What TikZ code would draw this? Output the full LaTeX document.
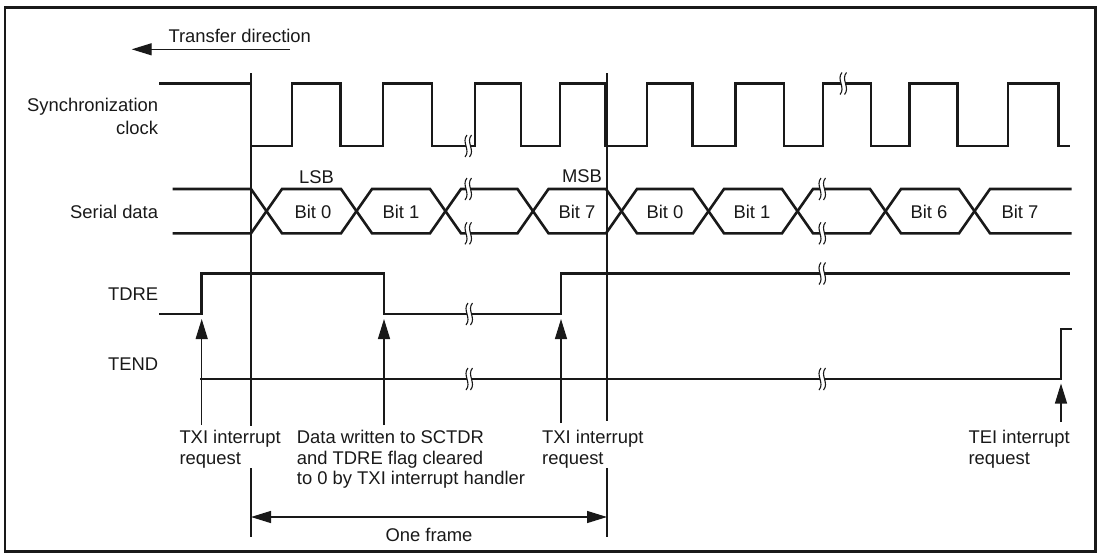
\documentclass[tikz,border=0pt]{standalone}
\usepackage{fontspec}
\setmainfont{Liberation Sans}
\usepackage{tikz}
\usetikzlibrary{arrows.meta, calc}
\definecolor{mydark}{RGB}{25,25,25}
\tikzset{
  sig/.style={line width=2.6pt, color=mydark},
  refline/.style={line width=1.3pt, color=mydark},
  arrow/.style={-{Triangle[length=20pt, width=12pt]}, line width=1.3pt, color=mydark},
  dblarrow/.style={{Triangle[length=20pt, width=12pt]}-{Triangle[length=20pt, width=12pt]},
    line width=1.3pt, color=mydark},
  lbl/.style={font=\fontsize{18.4}{20.5}\selectfont, inner sep=0pt, color=mydark},
  brk/.pic={
    \fill[white] (-1,-11) .. controls (-7,-4) and (3,4) .. (-3,11) -- (1.5,11)
      .. controls (7.5,4) and (-2.5,-4) .. (3.5,-11) -- cycle;
    \draw[line width=1.1pt, color=mydark] (-1,-11) .. controls (-7,-4) and (3,4) .. (-3,11);
    \draw[line width=1.1pt, color=mydark] (3.5,-11) .. controls (-2.5,-4) and (7.5,4) .. (1.5,11);
  }
}

\begin{document}
\begin{tikzpicture}[x=1pt, y=-1pt]
  \useasboundingbox (0,0) rectangle (1101,557);
  \draw[line width=2.2pt, color=mydark] (5,7.5) rectangle (1095.5,551.5);

  % --- Transfer direction ---
  \node[lbl, anchor=base west] (dirlbl) at (168.3,42.6) {Transfer direction};
  \coordinate (dirtail) at (290,49.3);
  \coordinate (dirtip) at (131.7,49.3);
  \draw[arrow] (dirtail) -- (dirtip);

  % --- Signal names ---
  \node[lbl, anchor=north east, align=right] (clklbl) at (158.3,98.4) {Synchronization\\[1.8pt]clock};
  \node[lbl, anchor=base east] (datalbl) at (158.3,218.3) {Serial data};
  \node[lbl, anchor=base east] (tdrelbl) at (158.3,300) {TDRE};
  \node[lbl, anchor=base east] (tendlbl) at (158.3,370) {TEND};

  % --- Synchronization clock ---
  \draw[sig] (159,83.5) -| (251,146) -| (292,83.5) -| (340.5,146) -| (383,83.5) -| (432,146)
    -| (475,83.5) -| (521,146) -| (560,83.5) -| (605,146) -| (647,83.5) -| (692.5,146)
    -| (735.5,83.5) -| (784,146) -| (823,83.5) -| (871,146) -| (909.5,83.5) -| (957.5,146)
    -| (1008,83.5) -| (1058.5,146) -- (1070,146);
  \pic at (468,146) {brk};
  \pic at (843,83.5) {brk};

  % --- Serial data ---
  \draw[sig] (172.7,189) -- (251,189) -- (282,233.3) -- (341,233.3) -- (372,189) -- (430,189)
    -- (461,233.3) -- (517.5,233.3) -- (548.5,189) -- (606,189) -- (637,233.3) -- (693,233.3)
    -- (724,189) -- (782,189) -- (813,233.3) -- (870,233.3) -- (901,189) -- (959,189)
    -- (990,233.3) -- (1071.7,233.3);
  \draw[sig] (172.7,233.3) -- (251,233.3) -- (282,189) -- (341,189) -- (372,233.3) -- (430,233.3)
    -- (461,189) -- (517.5,189) -- (548.5,233.3) -- (606,233.3) -- (637,189) -- (693,189)
    -- (724,233.3) -- (782,233.3) -- (813,189) -- (870,189) -- (901,233.3) -- (959,233.3)
    -- (990,189) -- (1071.7,189);
  \pic at (468,189) {brk};
  \pic at (468,233.3) {brk};
  \pic at (822,189) {brk};
  \pic at (822,233.3) {brk};

  \node[lbl, anchor=base] (lsb) at (316.5,183) {LSB};
  \node[lbl, anchor=base] (msb) at (582,182) {MSB};
  \node[lbl, anchor=base] (bitA0) at (313,218) {Bit 0};
  \node[lbl, anchor=base] (bitA1) at (401,218) {Bit 1};
  \node[lbl, anchor=base] (bitA7) at (577,218) {Bit 7};
  \node[lbl, anchor=base] (bitB0) at (665,218) {Bit 0};
  \node[lbl, anchor=base] (bitB1) at (752,218) {Bit 1};
  \node[lbl, anchor=base] (bitB6) at (929,218) {Bit 6};
  \node[lbl, anchor=base] (bitB7) at (1020,218) {Bit 7};

  % --- TDRE and TEND ---
  \draw[sig] (159,314) -| (201.7,273.5) -| (384,314) -| (561,273.5) -- (1070,273.5);
  \pic at (469,314) {brk};
  \pic at (822,273.5) {brk};
  \draw[sig] (200,379) -| (1061,329) -- (1072,329);
  \pic at (469,379) {brk};
  \pic at (822,379) {brk};

  % --- Notes and interrupt requests ---
  \node[lbl, anchor=north west, align=left] (txi1) at (179.3,430) {TXI interrupt\\request};
  \node[lbl, anchor=north west, align=left] (wrlbl) at (296.7,430) {Data written to SCTDR\\and TDRE flag cleared\\to 0 by TXI interrupt handler};
  \node[lbl, anchor=north west, align=left] (txi2) at (542,430) {TXI interrupt\\request};
  \node[lbl, anchor=north west, align=left] (teilbl) at (968.3,430) {TEI interrupt\\request};

  \coordinate (tdreup) at (201.7,314);
  \coordinate (tdredown) at (384,314);
  \coordinate (tdreup2) at (561,314);
  \coordinate (tendup) at (1061,379);
  \draw[arrow, shorten <=5pt, shorten >=5pt] (tdreup |- txi1.north) -- (tdreup);
  \draw[arrow, shorten <=5pt, shorten >=5pt] (tdredown |- wrlbl.north) -- (tdredown);
  \draw[arrow, shorten <=7pt, shorten >=5pt] (tdreup2 |- txi2.north) -- (tdreup2);
  \draw[arrow, shorten <=8pt, shorten >=4.5pt] (tendup |- teilbl.north) -- (tendup);

  % --- One frame ---
  \coordinate (ref1) at (251,73);
  \coordinate (ref2) at (607,73);
  \coordinate (ref1end) at (251,536.5);
  \coordinate (ref2end) at (607,536.5);
  \draw[refline, shorten >=4pt] (ref1) -- (ref1 |- txi1.north);
  \draw[refline] (ref1 |- txi1.south) -- (ref1end);
  \draw[refline, shorten >=9pt] (ref2) -- (ref2 |- txi2.north);
  \draw[refline] (ref2 |- txi2.south) -- (ref2end);
  \coordinate (frL) at (251,517);
  \draw[dblarrow] (frL) -- (frL -| ref2);
  \node[lbl, anchor=base] (framelbl) at (429,541) {One frame};
\end{tikzpicture}
\end{document}
